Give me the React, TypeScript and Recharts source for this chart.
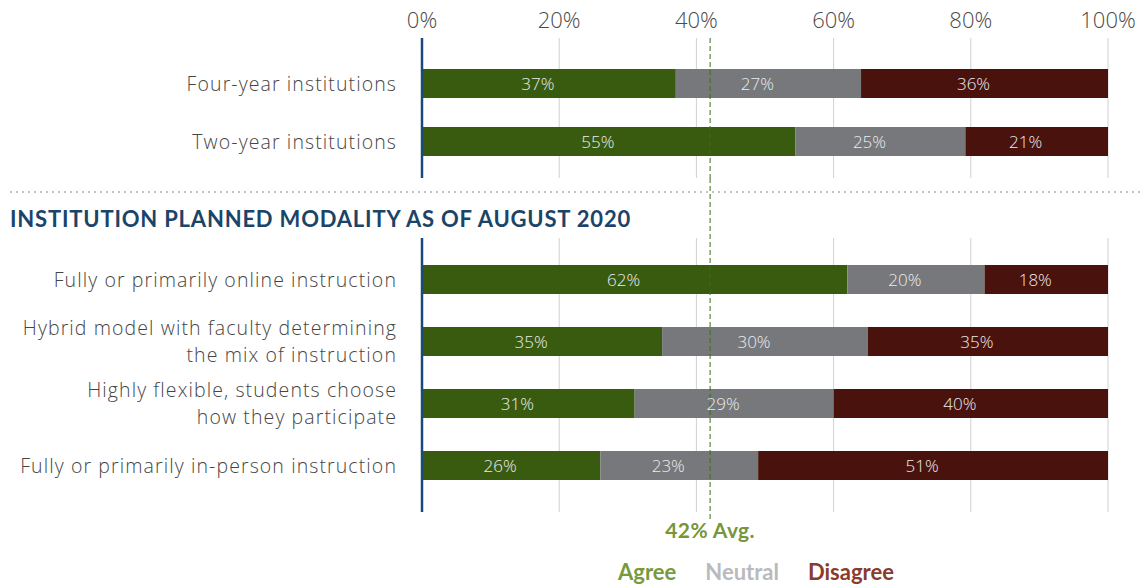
import { BarChart, Bar, XAxis, YAxis, CartesianGrid, ReferenceLine, LabelList, Legend } from "recharts"

// values (percent of respondents)
const institutionTypes = ["Four-year institutions", "Two-year institutions"]
const institutionAgree = [37, 55]
const institutionNeutral = [27, 25]
const institutionDisagree = [36, 21]

const modalities = [
  "Fully or primarily online instruction",
  "Hybrid model with faculty determining\nthe mix of instruction",
  "Highly flexible, students choose\nhow they participate",
  "Fully or primarily in-person instruction",
]
const modalityAgree = [62, 35, 31, 26]
const modalityNeutral = [20, 30, 29, 23]
const modalityDisagree = [18, 35, 40, 51]

const percentTicks = [0, 0.2, 0.4, 0.6, 0.8, 1]
const averageAgree = 0.42
const averageLabel = "42% Avg."
const sectionTitle = "INSTITUTION PLANNED MODALITY AS OF AUGUST 2020"

const series = [
  { key: "agree", name: "Agree", fill: "#395b10", legend: "#789a3c" },
  { key: "neutral", name: "Neutral", fill: "#77787c", legend: "#b9babd" },
  { key: "disagree", name: "Disagree", fill: "#4a120c", legend: "#8a3b2b" },
]

const topRows = institutionTypes.map((name, i) => ({
  name,
  agree: institutionAgree[i],
  neutral: institutionNeutral[i],
  disagree: institutionDisagree[i],
}))

const bottomRows = modalities.map((name, i) => ({
  name,
  agree: modalityAgree[i],
  neutral: modalityNeutral[i],
  disagree: modalityDisagree[i],
}))

const FONT = "Lato, 'Open Sans', sans-serif"
const LIGHT_FONT = "'Open Sans', Lato, sans-serif"
const AVG_GREEN = "#3f6a1c"

function CategoryTick(props: any) {
  const { x, y, payload } = props
  const lines = String(payload.value).split("\n")
  const lh = 26.5
  const start = y - ((lines.length - 1) * lh) / 2
  return (
    <g>
      {lines.map((l, i) => (
        <text
          key={i}
          x={x}
          y={start + i * lh}
          textAnchor="end"
          fill="#454545"
          fontSize={19.5}
          fontWeight={300}
          letterSpacing={1.1}
          fontFamily={LIGHT_FONT}
          dominantBaseline="central"
        >
          {l}
        </text>
      ))}
    </g>
  )
}

function BarValue(props: any) {
  const { x, y, width, height, value } = props
  return (
    <text
      x={x + width / 2 - 11}
      y={y + height / 2}
      textAnchor="middle"
      dominantBaseline="central"
      fill="#ececec"
      fontSize={17}
      fontWeight={300}
      fontFamily={LIGHT_FONT}
    >
      {value}%
    </text>
  )
}

function AvgLine(props: any) {
  const { x1, x2, y1, y2 } = props
  const top = Math.min(y1, y2)
  const bottom = Math.max(y1, y2)
  return <line x1={x1} x2={x2} y1={top - props.extendUp} y2={bottom + props.extendDown} stroke={AVG_GREEN} strokeWidth={1} strokeDasharray="5 3" />
}

function LegendContent() {
  return (
    <div style={{ display: "flex", gap: 29, paddingLeft: 618, fontFamily: FONT, fontWeight: 700, fontSize: 22, lineHeight: "24px" }}>
      {series.map((s) => (
        <span key={s.key} style={{ color: s.legend }}>
          {s.name}
        </span>
      ))}
    </div>
  )
}

function renderBars() {
  return series.map((s) => (
    <Bar key={s.key} dataKey={s.key} name={s.name} stackId="a" fill={s.fill} barSize={29} isAnimationActive={false}>
      <LabelList dataKey={s.key} content={<BarValue />} />
    </Bar>
  ))
}

export default function App() {
  return (
    <div style={{ position: "absolute", left: 0, top: 0, width: 1140, height: 586, background: "#fff", fontFamily: FONT }}>
      <div style={{ position: "absolute", left: 0, top: 0 }}>
        <BarChart
          width={1140}
          height={190}
          data={topRows}
          layout="vertical"
          stackOffset="expand"
          margin={{ top: 8, right: 32, bottom: 12, left: 8 }}
        >
          <XAxis
            type="number"
            orientation="top"
            domain={[0, 1]}
            ticks={percentTicks}
            height={30}
            axisLine={false}
            tickLine={false}
            tickSize={0}
            tickMargin={10}
            tickFormatter={(v: number) => `${Math.round(v * 100)}%`}
            tick={{ fill: "#4a4a4a", fontSize: 22, fontWeight: 300, fontFamily: LIGHT_FONT }}
          />
          <YAxis
            type="category"
            dataKey="name"
            width={414}
            padding={{ top: 16, bottom: 8 }}
            tickLine={false}
            tickSize={0}
            tickMargin={25}
            axisLine={{ stroke: "#1b4a78", strokeWidth: 2.5 }}
            tick={<CategoryTick />}
          />
          {renderBars()}
          <CartesianGrid horizontal={false} stroke="#c4c4c4" strokeOpacity={0.8} />
          <ReferenceLine x={averageAgree} shape={<AvgLine extendUp={0} extendDown={0} />} />
        </BarChart>
      </div>

      <svg style={{ position: "absolute", left: 0, top: 187 }} width={1140} height={10}>
        <line x1={10} x2={1140} y1={5} y2={5} stroke="#c2c2c2" strokeWidth={2} strokeDasharray="2 4" />
      </svg>

      <div
        style={{
          position: "absolute",
          left: 10,
          top: 206,
          fontFamily: FONT,
          fontWeight: 700,
          fontSize: 22,
          letterSpacing: 0.8,
          lineHeight: "26px",
          color: "#1b4468",
          whiteSpace: "nowrap",
        }}
      >
        {sectionTitle}
      </div>

      <div style={{ position: "absolute", left: 0, top: 178 }}>
        <BarChart
          width={1140}
          height={408}
          data={bottomRows}
          layout="vertical"
          stackOffset="expand"
          margin={{ top: 60, right: 32, bottom: 74, left: 8 }}
        >
          <XAxis type="number" domain={[0, 1]} ticks={percentTicks} hide />
          <YAxis
            type="category"
            dataKey="name"
            width={414}
            padding={{ top: 10, bottom: 16 }}
            tickLine={false}
            tickSize={0}
            tickMargin={25}
            axisLine={{ stroke: "#1b4a78", strokeWidth: 2.5 }}
            tick={<CategoryTick />}
          />
          {renderBars()}
          <CartesianGrid horizontal={false} stroke="#c4c4c4" strokeOpacity={0.8} />
          <ReferenceLine
            x={averageAgree}
            shape={<AvgLine extendUp={60} extendDown={8} />}
            label={{
              value: averageLabel,
              position: "bottom",
              offset: 11,
              fill: "#76963a",
              fontSize: 21,
              fontWeight: 700,
              letterSpacing: 0.4,
              fontFamily: FONT,
            }}
          />
          <Legend
            verticalAlign="middle"
            align="center"
            layout="horizontal"
            content={<LegendContent />}
            wrapperStyle={{ top: 382, left: 0, width: 1140 }}
          />
        </BarChart>
      </div>
    </div>
  )
}
